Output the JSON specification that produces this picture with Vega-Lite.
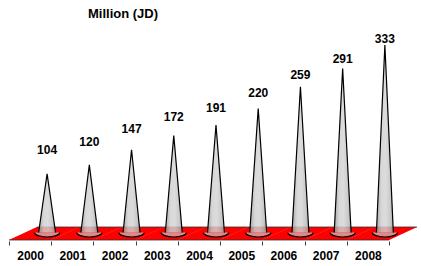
{
  "$schema": "https://vega.github.io/schema/vega-lite/v6.json",
  "width": 421,
  "height": 213,
  "autosize": {"type": "none"},
  "padding": {"top": 28, "left": 0, "right": 0, "bottom": 25},
  "background": "white",
  "title": {"text": "Million (JD)", "anchor": "start", "dx": 88, "fontSize": 13, "font": "Liberation Sans", "fontWeight": "bold", "color": "black", "offset": 7},
  "data": {"values": [
    {"year": "2000", "value": 104},
    {"year": "2001", "value": 120},
    {"year": "2002", "value": 147},
    {"year": "2003", "value": 172},
    {"year": "2004", "value": 191},
    {"year": "2005", "value": 220},
    {"year": "2006", "value": 259},
    {"year": "2007", "value": 291},
    {"year": "2008", "value": 333}
  ]},
  "encoding": {
    "x": {"field": "year", "type": "ordinal",
      "scale": {"type": "band", "paddingInner": 0, "paddingOuter": 0.4855, "align": 0.2195},
      "axis": {"title": null, "domain": false, "tickBand": "extent", "tickSize": 4, "tickColor": "#404040", "labelAngle": 0,
        "labelFont": "Liberation Sans", "labelFontWeight": "bold", "labelFontSize": 12, "labelColor": "black", "labelPadding": 5}}
  },
  "layer": [
    {
      "layer": [
        {
          "mark": {"type": "point", "shape": "M -1.01 0.355 L 1.01 0.355 L 2.336 -0.26 L 0.316 -0.26 Z", "size": 1782, "filled": true, "color": "#ff0000", "opacity": 1, "strokeWidth": 0},
          "encoding": {"y": {"datum": 0, "type": "quantitative", "scale": {"domain": [-15.1, 363.2], "nice": false, "zero": false}, "axis": null}}
        },
        {
          "mark": {"type": "point", "shape": "M -1 0.355 L 1 0.355 M 0.326 -0.26 L 2.326 -0.26", "size": 1782, "filled": false, "color": "#303030", "opacity": 1, "strokeWidth": 0.8},
          "encoding": {"y": {"datum": 0, "type": "quantitative"}}
        },
        {
          "mark": {"type": "point", "shape": "M -1 0 A 1 0.354 0 0 0 1 0 Z", "size": 645, "filled": true, "opacity": 0.8, "strokeWidth": 0, "xOffset": 17,
            "color": "#c8b0b0"},
          "encoding": {"y": {"datum": 0, "type": "quantitative"}}
        },
        {
          "transform": [
            {"fold": ["value"], "as": ["key", "v"]},
            {"impute": "v", "key": "key", "keyvals": ["left", "value", "zright"], "groupby": ["year"], "value": 0}
          ],
          "mark": {"type": "line", "stroke": "black", "strokeWidth": 1.2, "fillOpacity": 0.82,
            "fill": {"gradient": "linear", "x1": 0, "y1": 0, "x2": 1, "y2": 0,
              "stops": [{"offset": 0, "color": "#969696"}, {"offset": 0.3, "color": "#cfcfcf"}, {"offset": 0.55, "color": "#d4d4d4"}, {"offset": 0.8, "color": "#c0c0c0"}, {"offset": 1, "color": "#9c9c9c"}]}},
          "encoding": {
            "xOffset": {"field": "key", "type": "nominal", "scale": {"type": "point", "domain": ["left", "value", "zright"], "range": [25.4, 50.8]}},
            "y": {"field": "v", "type": "quantitative", "stack": null},
            "detail": {"field": "year"},
            "order": {"field": "key", "type": "nominal"}
          }
        },
        {
          "mark": {"type": "point", "shape": "M -1 0 A 1 0.354 0 0 0 1 0", "size": 645, "filled": false, "color": "black", "opacity": 1, "strokeWidth": 1.2, "xOffset": 17},
          "encoding": {"y": {"datum": 0, "type": "quantitative"}}
        }
      ]
    },
    {
      "mark": {"type": "text", "font": "Liberation Sans", "fontWeight": "bold", "fontSize": 12, "color": "black", "xOffset": 17, "baseline": "middle"},
      "encoding": {
        "y": {"field": "value", "type": "quantitative", "scale": {"domain": [-83.2, 354.6], "nice": false, "zero": false}, "axis": null},
        "text": {"field": "value", "type": "quantitative"}
      }
    }
  ],
  "resolve": {"scale": {"y": "independent"}},
  "config": {"view": {"stroke": null}}
}
